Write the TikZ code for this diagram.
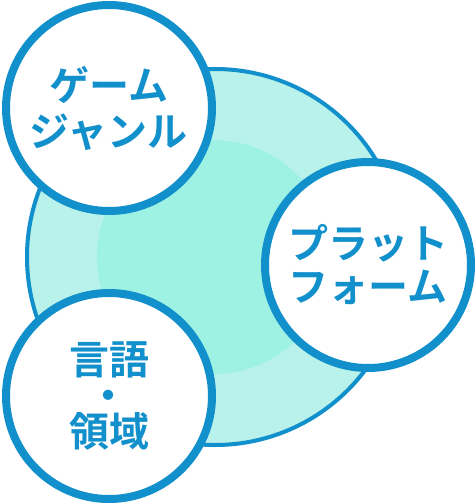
\documentclass[tikz,border=0pt]{standalone}
\usepackage{fontspec}
\newfontfamily\jp{Noto Sans CJK JP}[BoldFont=* Bold]
\definecolor{ringblue}{HTML}{1190CC}
\definecolor{outerfill}{HTML}{B9F2EA}
\definecolor{innerfill}{HTML}{9DF2E4}
\begin{document}
\begin{tikzpicture}[x=1pt,y=-1pt,
  bigring/.style={circle, draw=ringblue, line width=4pt, fill=outerfill, minimum size=376pt, inner sep=0pt},
  core/.style={circle, fill=innerfill, minimum size=234pt, inner sep=0pt},
  topic/.style={circle, draw=ringblue, line width=8pt, fill=white, minimum size=206pt, inner sep=0pt},
  label/.style={text=ringblue, font=\jp\bfseries\fontsize{40pt}{46pt}\selectfont, align=center, inner sep=0pt}
]
\useasboundingbox (0,0) rectangle (476,504);
\node[bigring] (big) at (215,257) {};
\node[core] (inner) at (214,257) {};
\node[topic] (genre) at (109,108) {};
\node[topic] (platform) at (368,265) {};
\node[topic] (lang) at (109,396) {};
\node[label] (genret) at (genre.center) {ゲーム\\ジャンル};
\node[label, font=\jp\bfseries\fontsize{40pt}{43pt}\selectfont] (platformt) at (platform.center) {プラット\\フォーム};
\node[label, font=\jp\bfseries\fontsize{40pt}{36pt}\selectfont] (langt) at (lang.center) {言語\\・\\領域};
\end{tikzpicture}
\end{document}
